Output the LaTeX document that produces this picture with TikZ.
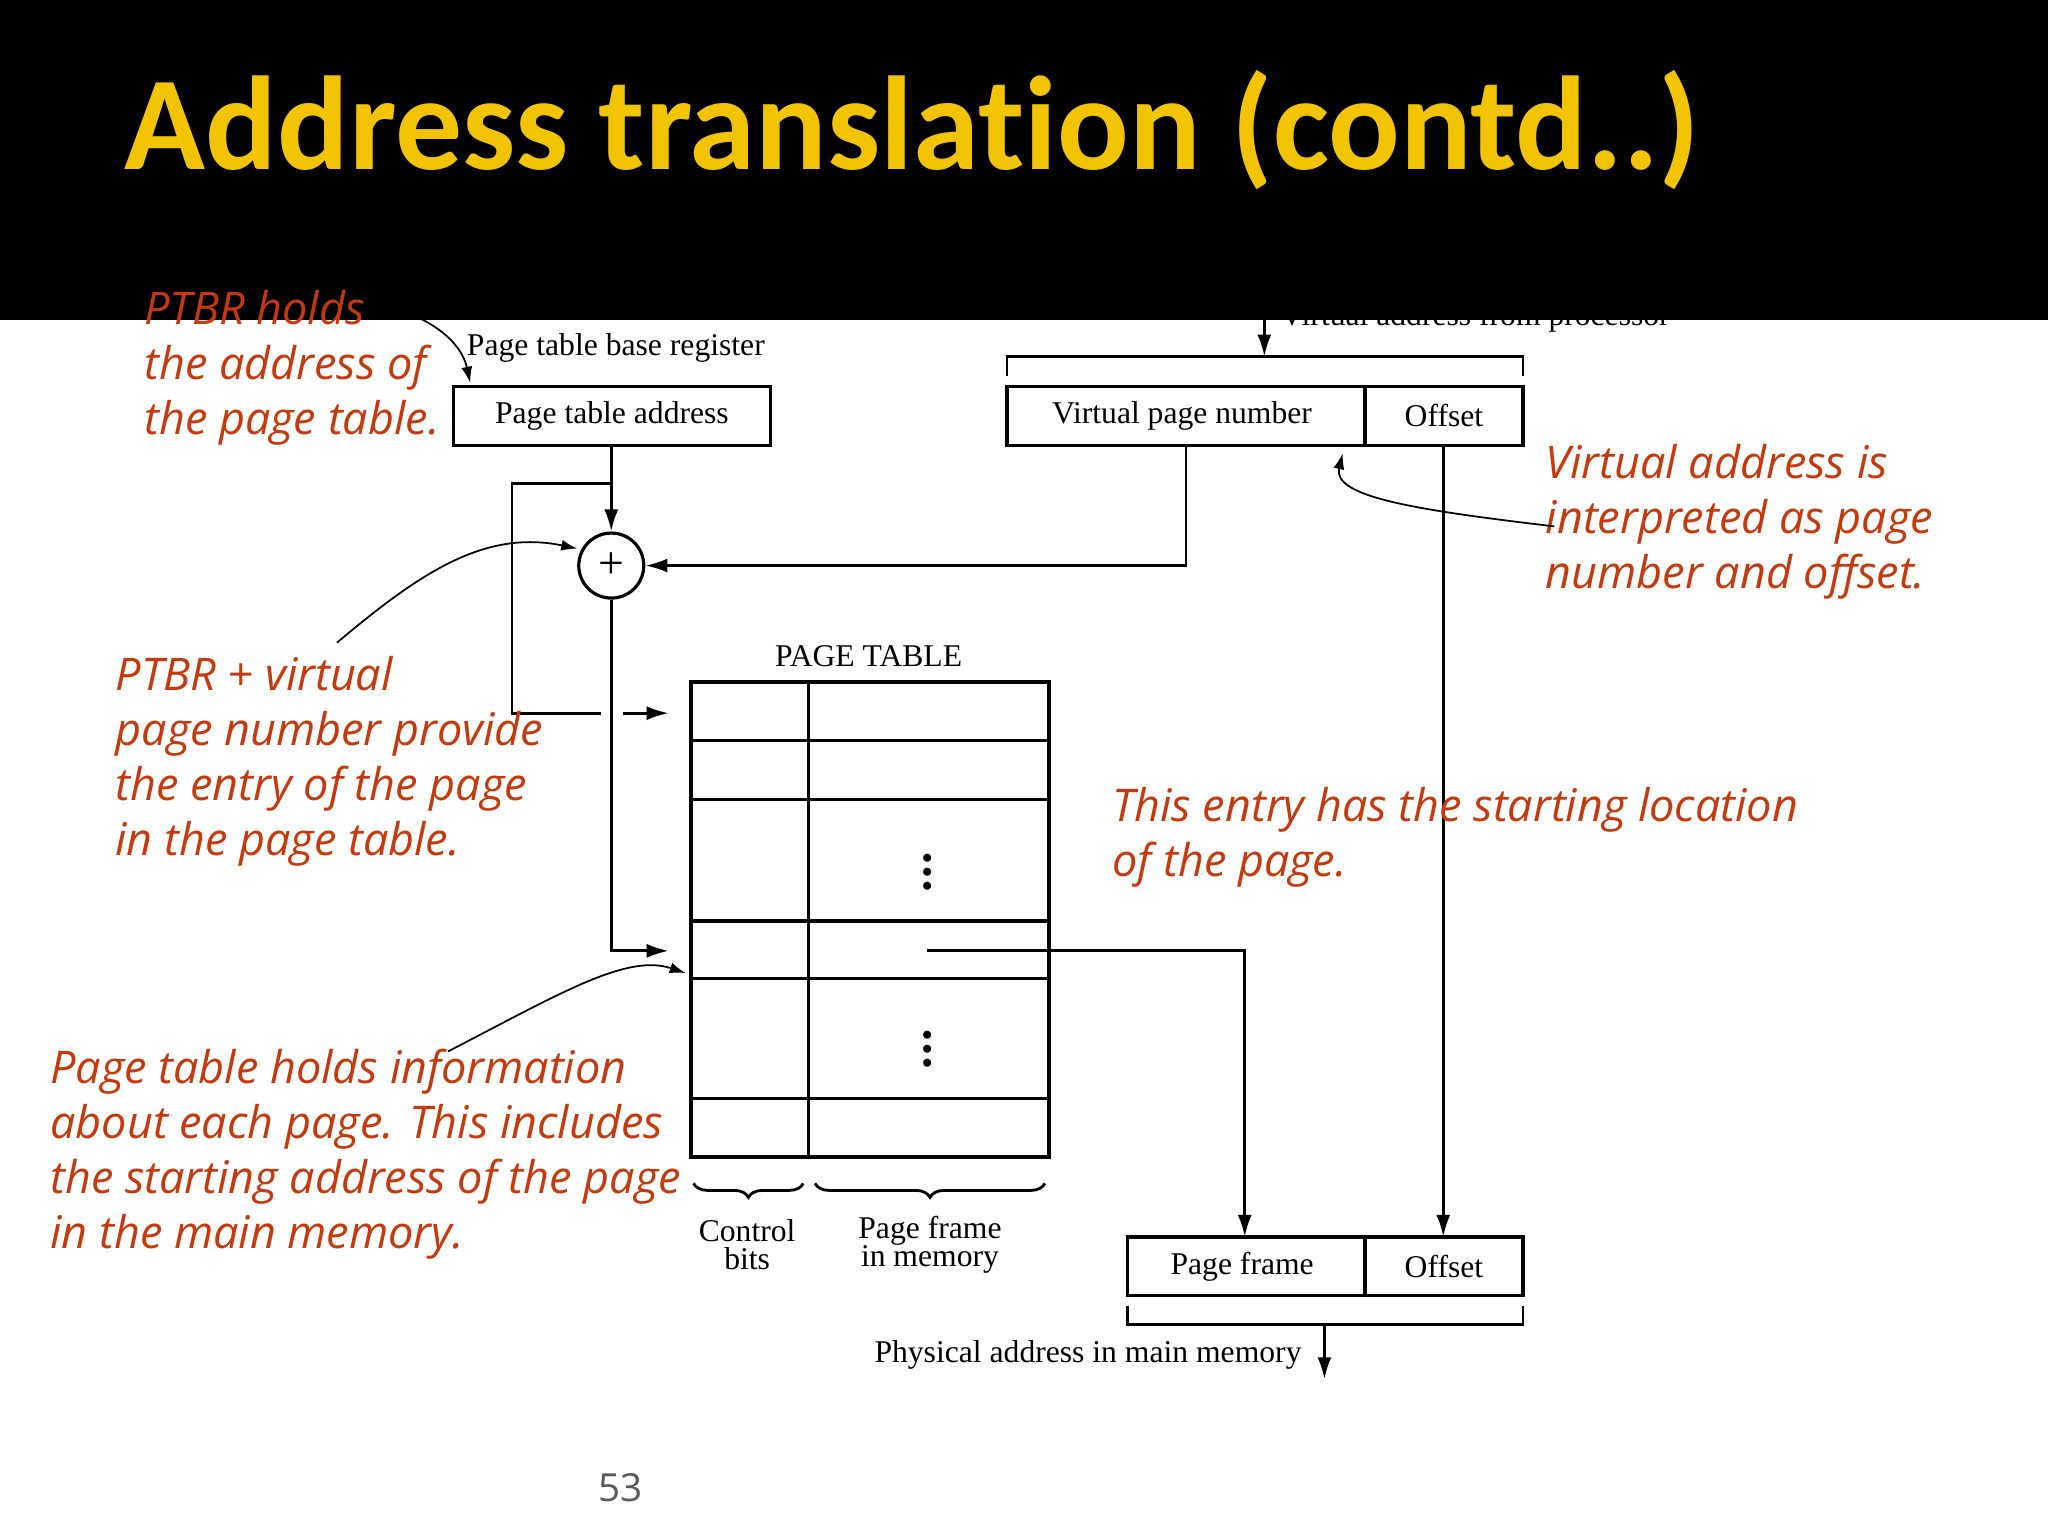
\documentclass[tikz,border=0pt]{standalone}
\usepackage{fontspec}
\setmainfont{Liberation Serif}
\newfontfamily\titlefont[Ligatures=NoCommon]{Carlito}
\newfontfamily\notefont{Open Sans}
\usetikzlibrary{arrows.meta,decorations.pathreplacing,calc}
\definecolor{titleyellow}{RGB}{242,196,0}
\definecolor{noteorange}{RGB}{196,58,14}
\begin{document}
\begin{tikzpicture}[x=0.1306mm,y=-0.1306mm,
  lbl/.style={font=\fontsize{9}{9}\selectfont,inner sep=0pt},
  bx/.style={line width=0.9pt},
  note/.style={font=\notefont\itshape\fontsize{12.8}{15.6}\selectfont,color=noteorange,anchor=north west,align=left,inner sep=0pt},
  ln/.style={line width=0.8pt},
  arr/.style={line width=0.8pt,-{Latex[length=2.2mm,width=1.4mm]}},
  narr/.style={line width=0.5pt,-{Latex[length=1.6mm,width=1.1mm]}}]
\useasboundingbox (0,0) rectangle (1568,1176);
\fill[white] (0,0) rectangle (1568,1176);
\node[lbl,anchor=west] (valbl) at (980,243) {Virtual address from processor};
\fill[black] (0,0) rectangle (1568,245);
\node[anchor=base west,inner sep=0pt,text=titleyellow,font=\titlefont\bfseries\fontsize{38}{40}\selectfont] (title) at (95,130) {Address translation (contd..)};
% Page table base register
\draw[bx] (347,296) rectangle (590,341);
\node[lbl] (pta) at (468.5,318.5) {Page table address};
\node[lbl,anchor=west] (ptbr) at (357,266) {Page table base register};
% virtual address
\draw[bx] (771,296) rectangle (1166,341);
\draw[bx] (1045,296) -- (1045,341);
\node[lbl] (vpn) at (905,318.5) {Virtual page number};
\node[lbl] (voff) at (1105.5,318.5) {Offset};
\coordinate (vatop) at (968,245);
\coordinate (vabr) at (968,273);
\draw[ln] (771,288) -- (771,273) -- (1166,273) -- (1166,288);
\draw[arr] (vatop) -- (vabr);
% adder
\node[draw,circle,line width=0.9pt,minimum size=6.5mm,inner sep=0pt,font=\fontsize{13}{13}\selectfont] (add) at (468,433) {+};
\coordinate (ptas) at (468,341);
\draw[arr] (ptas) -- (add.north);
\coordinate (br) at (468,370);
\draw[ln] (br) -- (392,370) -- (392,546) -- (460,546);
\coordinate (d1) at (477,546);
\coordinate (d2) at (512,546);
\draw[arr] (d1) -- (d2);
\coordinate (vpns) at (908,341);
\draw[arr] (vpns) |- (add.east);
% page table
\node[lbl] (ptl) at (665,502) {PAGE TABLE};
\coordinate (t1) at (529,522);
\coordinate (t2) at (803,886);
\draw[line width=1pt] (t1) rectangle (t2);
\draw[line width=1pt] (619,522) -- (619,886);
\foreach \yy in {567,612,705,749,841} \draw[line width=1pt] (529,\yy) -- (803,\yy);
\node[inner sep=0pt,font=\bfseries\fontsize{14}{14}\selectfont] (dots1) at (710,660) {$\vdots$};
\node[inner sep=0pt,font=\bfseries\fontsize{14}{14}\selectfont] (dots2) at (710,795) {$\vdots$};
\coordinate (entry) at (512,728);
\draw[arr] (add.south) |- (entry);
% physical address
\draw[bx] (863,947) rectangle (1166,992);
\draw[bx] (1045,947) -- (1045,992);
\node[lbl] (pf) at (951,970) {Page frame};
\node[lbl] (poff) at (1105.5,970) {Offset};
\coordinate (es) at (710,728);
\coordinate (pft) at (953,947);
\draw[arr] (es) -- (953,728) -- (pft);
\coordinate (vos) at (1105,341);
\coordinate (pot) at (1105,947);
\draw[arr] (vos) -- (pot);
\draw[ln] (863,1000) -- (863,1014) -- (1166,1014) -- (1166,1000);
\coordinate (pab) at (1014,1014);
\coordinate (pae) at (1014,1056);
\draw[arr] (pab) -- (pae);
\node[lbl,anchor=east] (palbl) at (997,1037) {Physical address in main memory};
% braces
\draw[ln,decorate,decoration={brace,mirror,amplitude=4pt}] (531,906) -- (615,906);
\draw[ln,decorate,decoration={brace,mirror,amplitude=4pt}] (624,906) -- (800,906);
\node[lbl,align=center,font=\fontsize{9}{8.2}\selectfont] (cb) at (572,953) {Control\\bits};
\node[lbl,align=center,font=\fontsize{9}{8.2}\selectfont] (pfm) at (712,953) {Page frame\\in memory};
% notes
\node[note] (n1) at (110,222) {PTBR holds\\the address of\\the page table.};
\node[note] (n2) at (1183,340) {Virtual address is\\interpreted as page\\number and offset.};
\node[note] (n3) at (88,502) {PTBR + virtual\\page number provide\\the entry of the page\\in the page table.};
\node[note] (n4) at (851,602) {This entry has the starting location\\of the page.};
\node[note] (n5) at (38,803) {Page table holds information\\about each page. This includes\\the starting address of the page\\in the main memory.};
\coordinate (a1s) at (320,243); \coordinate (a1e) at (360,293);
\draw[narr] (a1s) .. controls (345,255) and (355,270) .. (a1e);
\coordinate (a2s) at (1190,403); \coordinate (a2e) at (1028,347);
\draw[narr] (a2s) .. controls (1080,390) and (1020,380) .. (a2e);
\coordinate (a3s) at (258,492); \coordinate (a3e) at (442,420);
\draw[narr] (a3s) .. controls (320,440) and (370,405) .. (a3e);
\coordinate (a4s) at (343,805); \coordinate (a4e) at (525,745);
\draw[narr] (a4s) .. controls (430,760) and (480,730) .. (a4e);
\node[inner sep=0pt,text=black!65,font=\notefont\fontsize{11}{12}\selectfont] (pg) at (475,1139) {53};
\end{tikzpicture}
\end{document}
